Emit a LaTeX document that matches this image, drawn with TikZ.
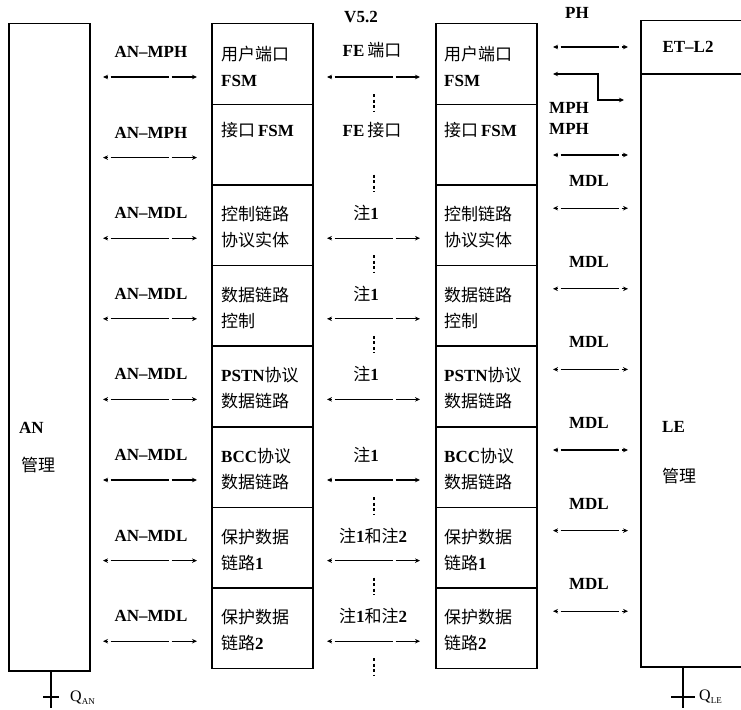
\documentclass[tikz,border=0pt]{standalone}
\usepackage{fontspec}
\setmainfont{Liberation Serif}
\newfontfamily\cjk{Noto Sans CJK SC}
\usetikzlibrary{arrows.meta,calc}
\newcommand\zh[1]{{\cjk\mdseries #1}}
\tikzset{
  box/.style={draw, line width=1.5pt, minimum width=101pt, minimum height=80.6pt, anchor=north west, inner sep=0pt},
  bigbox/.style={draw, line width=1.5pt, anchor=north west, inner sep=0pt},
  lab/.style={font=\fontsize{17}{19}\selectfont\bfseries, inner sep=0pt},
  boxtext/.style={anchor=west, align=left, inner sep=0pt, font=\fontsize{17}{26}\selectfont\bfseries},
  biarrow/.style={line width=1.1pt, {Stealth[length=5pt,width=4.5pt]}-{Stealth[length=5pt,width=4.5pt]}, dash pattern=on 1.5pt off 3pt on 58pt off 3pt on 40pt},
  vdash/.style={line width=1.2pt, dash pattern=on 3pt off 2.5pt},
  tick/.style={line width=1.2pt},
}
\begin{document}
\begin{tikzpicture}[x=1pt,y=-1pt]
\useasboundingbox (0,0) rectangle (741,709);
\clip (0,0) rectangle (741,709);
% AN management
\node[bigbox, minimum width=81pt, minimum height=647pt] (an) at (8,23) {};
\node[lab, anchor=west] (antext) at (19,428) {AN};
\node[lab, anchor=west] (anmg) at (21,465) {\zh{管理}};
% LE management
\node[bigbox, minimum width=130pt, minimum height=53pt] (et) at (640,20) {};
\node[lab] (ettext) at (688,47) {ET--L2};
\node[bigbox, minimum width=130pt, minimum height=593pt] (le) at (640,73) {};
\node[lab, anchor=west] (letext) at (662,427) {LE};
\node[lab, anchor=west] (lemg) at (662,476) {\zh{管理}};
% column boxes
\foreach \i in {1,...,8}{
  \pgfmathsetmacro\T{23+80.6*(\i-1)}
  \node[box] (a\i) at (211,\T) {};
  \node[box] (b\i) at (435,\T) {};
}
% box texts
\foreach \i/\txt in {1/{\zh{用户端口}\\FSM},3/{\zh{控制链路}\\\zh{协议实体}},4/{\zh{数据链路}\\\zh{控制}},5/{PSTN\zh{协议}\\\zh{数据链路}},6/{BCC\zh{协议}\\\zh{数据链路}},7/{\zh{保护数据}\\\zh{链路}1},8/{\zh{保护数据}\\\zh{链路}2}}{
  \pgfmathsetmacro\T{23+80.6*(\i-1)}
  \node[boxtext] (ta\i) at (221,\T+43) {\txt};
  \node[boxtext] (tb\i) at (444,\T+43) {\txt};
}
\node[boxtext] (ta2) at (221,130) {\zh{接口}\,FSM};
\node[boxtext] (tb2) at (444,130) {\zh{接口}\,FSM};
% left labels and arrows
\foreach \i/\txt in {1/AN--MPH,2/AN--MPH,3/AN--MDL,4/AN--MDL,5/AN--MDL,6/AN--MDL,7/AN--MDL,8/AN--MDL}{
  \pgfmathsetmacro\T{23+80.6*(\i-1)}
  \node[lab] (la\i) at (151,\T+29) {\txt};
  \coordinate (lal\i) at (103,\T+54);
  \coordinate (lar\i) at (197,\T+54);
  \draw[biarrow] (lal\i) -- (lar\i);
}
% middle labels
\node[lab] (v52) at (361,17) {V5.2};
\node[lab] (m1) at (372,50) {FE\,\zh{端口}};
\node[lab] (m2) at (372,130) {FE\,\zh{接口}};
\foreach \i in {3,4,5,6}{
  \pgfmathsetmacro\T{23+80.6*(\i-1)}
  \node[lab] (m\i) at (366,\T+29) {\zh{注}1};
}
\foreach \i in {7,8}{
  \pgfmathsetmacro\T{23+80.6*(\i-1)}
  \node[lab] (m\i) at (373,\T+29) {\zh{注}1\zh{和注}2};
}
\foreach \i in {1,3,4,5,6,7,8}{
  \pgfmathsetmacro\T{23+80.6*(\i-1)}
  \coordinate (mal\i) at (327,\T+54);
  \coordinate (mar\i) at (420,\T+54);
  \draw[biarrow] (mal\i) -- (mar\i);
}
\foreach \i in {1,2,3,4,6,7,8}{
  \pgfmathsetmacro\T{23+80.6*(\i-1)}
  \coordinate (vt\i) at (374,\T+71);
  \coordinate (vb\i) at (374,\T+88);
  \draw[vdash] (vt\i) -- (vb\i);
}
% right labels and arrows
\node[lab] (ph) at (577,13) {PH};
\coordinate (phl) at (553,47);
\coordinate (phr) at (628,47);
\draw[biarrow] (phl) -- (phr);
\coordinate (bl) at (553,74);
\coordinate (bm1) at (598,74);
\coordinate (bm2) at (598,100);
\coordinate (br) at (624,100);
\draw[line width=1.1pt, {Stealth[length=5pt,width=4.5pt]}-{Stealth[length=5pt,width=4.5pt]}] (bl) -- (bm1) -- (bm2) -- (br);
\node[lab, anchor=west] (mph1) at (549,108) {MPH};
\node[lab, anchor=west] (mph2) at (549,129) {MPH};
\coordinate (mphl) at (553,155);
\coordinate (mphr) at (628,155);
\draw[biarrow] (mphl) -- (mphr);
\foreach \i in {3,...,8}{
  \pgfmathsetmacro\T{23+80.6*(\i-1)}
  \node[lab] (r\i) at (589,\T-3) {MDL};
  \coordinate (rl\i) at (553,\T+24);
  \coordinate (rr\i) at (628,\T+24);
  \draw[biarrow] (rl\i) -- (rr\i);
}
% Q markers
\coordinate (qan) at (51,708);
\coordinate (qanl) at (43,697);
\coordinate (qanr) at (59,697);
\draw[tick] (an.south -| qan) -- (qan);
\draw[tick] (qanl) -- (qanr);
\node[anchor=west, inner sep=0pt, font=\fontsize{16}{18}\selectfont] (qantext) at (70,698) {Q\raisebox{-3pt}{\fontsize{9}{9}\selectfont AN}};
\coordinate (qle) at (683,708);
\coordinate (qlel) at (671,697);
\coordinate (qler) at (695,697);
\draw[tick] (le.south -| qle) -- (qle);
\draw[tick] (qlel) -- (qler);
\node[anchor=west, inner sep=0pt, font=\fontsize{16}{18}\selectfont] (qletext) at (699,697) {Q\raisebox{-3pt}{\fontsize{9}{9}\selectfont LE}};
\end{tikzpicture}
\end{document}
